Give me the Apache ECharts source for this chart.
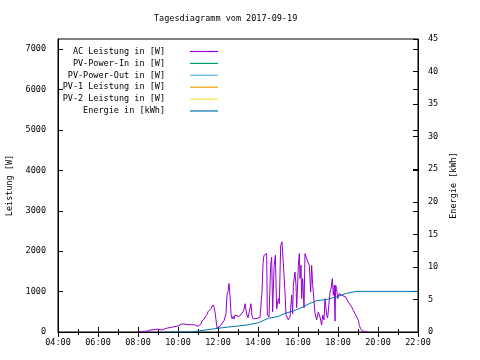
<!DOCTYPE html>
<html><head><meta charset="utf-8">
<script src="https://cdn.jsdelivr.net/npm/echarts@6/dist/echarts.min.js"></script>
<style>html,body{margin:0;padding:0;background:#fff}#c{width:480px;height:360px}</style>
</head><body><div id="c"></div>
<script>
const titleText = 'Tagesdiagramm vom 2017-09-19';
const seriesNames = ['AC Leistung in [W]','PV-Power-In in [W]','PV-Power-Out in [W]','PV-1 Leistung in [W]','PV-2 Leistung in [W]','Energie in [kWh]'];
const seriesColors = ['#9400d3','#009e73','#56b4e9','#e69f00','#f0e442','#0072b2'];
const xTicksHours = [4,6,8,10,12,14,16,18,20,22];

const acTime = ['08:03','08:09','08:15','08:21','08:27','08:36','08:42','08:48','08:54','09:00','09:06','09:12','09:18','09:24','09:30','09:36','09:42','09:48','09:54','10:00','10:06','10:12','10:18','10:24','10:30','10:36','10:42','10:48','10:54','11:00','11:06','11:09','11:12','11:18','11:21','11:27','11:30','11:33','11:39','11:42','11:45','11:48','11:51','11:54','11:57','12:00','12:06','12:12','12:18','12:21','12:24','12:27','12:30','12:33','12:36','12:39','12:42','12:45','12:48','12:51','12:57','13:03','13:09','13:15','13:18','13:21','13:24','13:27','13:30','13:33','13:36','13:39','13:42','13:45','13:48','13:54','14:00','14:06','14:09','14:12','14:15','14:18','14:21','14:26','14:28','14:33','14:38','14:41','14:44','14:48','14:52','14:56','15:01','15:04','15:08','15:12','15:18','15:21','15:24','15:31','15:36','15:41','15:44','15:46','15:51','15:54','15:56','15:58','16:01','16:04','16:06','16:09','16:11','16:14','16:16','16:18','16:21','16:24','16:28','16:34','16:36','16:38','16:41','16:44','16:46','16:51','16:56','17:01','17:06','17:11','17:14','17:18','17:21','17:26','17:29','17:33','17:36','17:39','17:43','17:46','17:49','17:51','17:53','17:56','17:59','18:03','18:11','18:15','18:23','18:26','18:31','18:36','18:41','18:46','18:51','18:56','19:01','19:04','19:08','19:13','19:19','19:26','19:31'];
const acPower = [10,30,15,40,20,45,25,60,35,70,65,50,75,90,70,110,80,130,100,150,150,200,170,190,210,180,200,180,160,140,135,200,270,320,370,430,500,545,580,600,670,620,500,300,100,120,140,160,280,370,450,915,1000,1200,900,450,330,380,320,420,400,380,420,500,560,700,540,420,350,330,370,700,400,330,300,330,350,360,370,990,1690,1900,1855,1940,420,370,1650,1855,500,1600,1900,575,825,700,2145,2230,2185,990,430,300,370,910,450,1155,1485,1155,600,990,1650,1940,1320,1650,825,1320,1000,600,1940,1855,1900,1650,1320,990,1650,1155,990,455,300,495,370,170,420,300,825,420,345,345,990,1070,1320,910,1155,270,1155,1070,825,950,910,950,865,825,740,700,620,535,455,370,290,165,80,25,15,10,0];

const pvInTime = [], pvInPower = [];
const pvOutTime = [], pvOutPower = [];
const pv1Time = [], pv1Power = [];
const pv2Time = [], pv2Power = [];

const energyTime = ['09:21','10:41','11:21','12:01','12:31','13:01','13:31','14:01','14:31','15:01','15:21','15:46','16:06','16:36','16:56','17:26','17:56','18:26','18:56','22:00'];
const energyKWh = [0,0,0.3,0.57,0.77,0.92,1.1,1.43,2.1,2.4,2.87,3.22,3.64,4.4,4.8,5.0,5.4,5.94,6.24,6.24];

const hm = s => { const p = s.split(':'); return +p[0] + (+p[1]) / 60; };
const pairs = (t, v) => t.map((s, i) => [hm(s), v[i]]);
const FONT = '"DejaVu Sans Mono", monospace';
const FS = 8.5;
const pad2 = n => (n < 10 ? '0' : '') + n;

const chart = echarts.init(document.getElementById('c'), null, {renderer: 'canvas'});
const lineSeries = (i, data, yIdx) => ({
  name: seriesNames[i], type: 'line', data: data, yAxisIndex: yIdx,
  showSymbol: false, symbol: 'none', animation: false,
  lineStyle: {width: 1, color: seriesColors[i]}, itemStyle: {color: seriesColors[i]}
});

chart.setOption({
  animation: false,
  backgroundColor: '#fff',
  title: {text: titleText, left: 154, top: 14, padding: 0,
    textStyle: {fontFamily: FONT, fontSize: FS, fontWeight: 'normal', color: '#000'}},
  grid: {left: 58, right: 62, top: 39, bottom: 28, containLabel: false, outerBoundsMode: 'none',
    show: true, borderColor: '#000', borderWidth: 1, backgroundColor: 'transparent'},
  legend: {
    data: seriesNames, orient: 'vertical', align: 'right', left: 38, top: 42,
    icon: 'rect', itemWidth: 28, itemHeight: 1.2, itemGap: 2.9,
    formatter: '{a|{name}}',
    textStyle: {fontFamily: FONT, fontSize: FS, color: '#000',
      rich: {a: {fontFamily: FONT, fontSize: FS, color: '#000', width: 122, align: 'right', lineHeight: 10, padding: [0, 20, 0, 0]}}}
  },
  xAxis: [{
    type: 'value', min: xTicksHours[0], max: xTicksHours[xTicksHours.length - 1], interval: 2, position: 'bottom',
    axisLine: {show: true, lineStyle: {color: '#000'}},
    axisTick: {show: true, inside: true, length: 5, lineStyle: {color: '#000'}},
    minorTick: {show: true, splitNumber: 2, length: 3, lineStyle: {color: '#000'}},
    splitLine: {show: false},
    axisLabel: {formatter: v => pad2(v) + ':00', margin: 6, fontFamily: FONT, fontSize: FS, color: '#000'}
  }, {
    type: 'value', min: xTicksHours[0], max: xTicksHours[xTicksHours.length - 1], interval: 2, position: 'top',
    axisLine: {show: false},
    axisTick: {show: true, inside: true, length: 5, lineStyle: {color: '#000'}},
    minorTick: {show: true, splitNumber: 2, length: 3, lineStyle: {color: '#000'}},
    splitLine: {show: false}, axisLabel: {show: false}
  }],
  yAxis: [{
    type: 'value', min: 0, max: 7250, interval: 1000, position: 'left',
    name: 'Leistung [W]', nameLocation: 'middle', nameGap: 41, nameRotate: 90,
    nameTextStyle: {fontFamily: FONT, fontSize: FS, color: '#000'},
    axisLine: {show: true, lineStyle: {color: '#000'}},
    axisTick: {show: true, inside: true, length: 5, lineStyle: {color: '#000'}},
    splitLine: {show: false},
    axisLabel: {formatter: v => String(v), showMaxLabel: false, margin: 12, fontFamily: FONT, fontSize: FS, color: '#000'}
  }, {
    type: 'value', min: 0, max: 45, interval: 5, position: 'right',
    name: 'Energie [kWh]', nameLocation: 'middle', nameGap: 29, nameRotate: 90,
    nameTextStyle: {fontFamily: FONT, fontSize: FS, color: '#000'},
    axisLine: {show: true, lineStyle: {color: '#000'}},
    axisTick: {show: true, inside: true, length: 5, lineStyle: {color: '#000'}},
    splitLine: {show: false},
    axisLabel: {formatter: v => String(v), margin: 10, fontFamily: FONT, fontSize: FS, color: '#000'}
  }, {
    type: 'value', min: 0, max: 7250, interval: 1000, position: 'right',
    axisLine: {show: false},
    axisTick: {show: true, inside: true, length: 5, lineStyle: {color: '#000'}},
    splitLine: {show: false}, axisLabel: {show: false}
  }],
  series: [
    lineSeries(0, pairs(acTime, acPower), 0),
    lineSeries(1, pairs(pvInTime, pvInPower), 0),
    lineSeries(2, pairs(pvOutTime, pvOutPower), 0),
    lineSeries(3, pairs(pv1Time, pv1Power), 0),
    lineSeries(4, pairs(pv2Time, pv2Power), 0),
    lineSeries(5, pairs(energyTime, energyKWh), 1)
  ]
});
</script></body></html>
